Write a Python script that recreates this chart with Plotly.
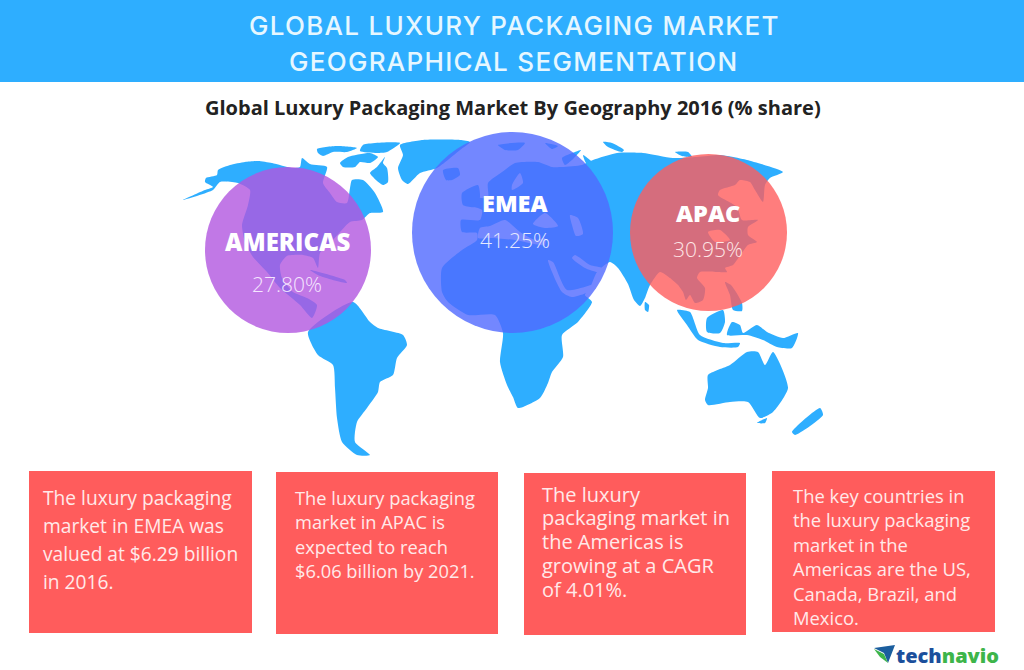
import plotly.graph_objects as go

# header text
title_lines = ["GLOBAL LUXURY PACKAGING MARKET", "GEOGRAPHICAL SEGMENTATION"]
subtitle = "Global Luxury Packaging Market By Geography 2016 (% share)"

# regional share bubbles
regions = ["AMERICAS", "EMEA", "APAC"]
shares = ["27.80%", "41.25%", "30.95%"]
bubble_x = [288, 512.5, 708.5]
bubble_y = [250, 232.5, 232.5]
bubble_d = [166, 201, 157]
bubble_colors = ["rgba(177,86,224,0.8)", "rgba(80,105,255,0.8)", "rgba(255,92,92,0.8)"]

# text boxes
box_left = [29, 276, 524, 772]
box_right = [252, 498, 746, 995]
box_top = [471, 472, 473, 471]
box_bottom = [633, 634, 635, 632]
box_text_x = [41, 293, 540, 791]
box_first_y = [497, 497, 494, 495]
box_step = [28, 24.5, 23.8, 24.5]
box_font = [19.2, 18.3, 20, 18.4]
box_lines = [
    ["The luxury packaging", "market in EMEA was", "valued at $6.29 billion", "in 2016."],
    ["The luxury packaging", "market in APAC is", "expected to reach", "$6.06 billion by 2021."],
    ["The luxury", "packaging market in", "the Americas is", "growing at a CAGR", "of 4.01%."],
    ["The key countries in", "the luxury packaging", "market in the", "Americas are the US,", "Canada, Brazil, and", "Mexico."],
]

# map outlines
north_america = [(183,200),(205,190),(213,187),(205,182),(206,178),(217,175),(218,170),(230,165),(245,162),(258,161),
                 (272,163),(292,168),(300,167),(302,158),(310,164),(327,167),(323,183),(330,193),(337,202),(347,203),
                 (350,188),(352,180),(363,180),(375,193),(383,212),(370,213),(362,220),(350,222),(333,240),(320,253),
                 (318,268),(313,258),(303,255),(287,256),(280,265),(282,278),(293,292),(307,298),(317,305),(312,318),
                 (300,305),(280,288),(267,272),(253,257),(245,242),(242,225),(248,205),(250,190),(238,183),(220,182),
                 (213,190)]
south_america = [(308,332),(353,302),(370,322),(378,328),(403,335),(407,345),(397,358),(393,375),(380,382),(378,392),
                 (367,408),(357,422),(355,442),(370,455),(357,455),(342,442),(337,418),(335,388),(333,365),(318,355)]
cuba = [(310,270),(345,280),(347,283),(320,276)]
arctic_1 = [(317,149),(337,146),(357,148),(347,152),(333,152),(323,156),(318,153)]
arctic_2 = [(340,163),(348,157),(370,153),(378,157),(370,163),(360,162),(355,167),(343,167)]
arctic_3 = [(363,145),(400,143),(387,152),(377,153),(360,151)]
baffin = [(383,163),(385,157),(377,167),(370,173),(383,185),(388,182),(387,168)]
greenland = [(400,145),(423,140),(460,140),(470,142),(460,150),(437,168),(420,173),(408,184),(402,180),(398,168),(403,155)]
iceland = [(443,170),(458,168),(460,175),(452,180),(446,180)]
svalbard = [(498,145),(525,143),(518,150),(505,150)]
franz_josef = [(545,143),(558,146),(552,149)]
novaya_1 = [(562,158),(575,152),(581,150),(572,160),(565,165)]
novaya_2 = [(583,155),(590,160),(598,170),(595,171),(586,163)]
arctic_isle = [(603,142),(612,143),(624,150),(622,152),(608,147)]
arctic_isle_2 = [(675,152),(688,152),(692,157),(682,156)]
uk = [(462,193),(478,185),(480,197),(475,207),(463,205)]
afro_eurasia = [(488,183),(502,172),(515,163),(538,162),(552,167),(562,167),(582,165),(593,160),(617,153),(643,153),
                (673,158),(697,157),(720,155),(747,160),(783,172),(770,178),(765,185),(763,202),(755,190),(750,182),
                (740,180),(735,185),(720,190),(718,195),(737,207),(742,220),(758,220),(748,227),(748,235),(757,242),
                (748,245),(733,265),(725,268),(727,272),(718,272),(700,272),(697,278),(705,288),(703,300),(695,303),
                (690,295),(686,300),(683,292),(678,285),(670,278),(660,272),(650,285),(645,298),(640,306),(634,300),
                (628,284),(618,268),(610,262),(597,272),(590,288),(585,295),(592,302),(578,322),(562,335),(563,357),
                (552,372),(548,383),(540,398),(518,408),(513,397),(507,385),(500,362),(503,333),(495,315),(468,315),
                (448,302),(442,292),(442,268),(462,250),(477,240),(477,233),(462,232),(461,220),(480,220),(482,210),
                (470,205),(475,198),(488,198)]
sri_lanka = [(645,302),(649,305),(648,312),(645,310)]
sumatra = [(677,310),(690,312),(700,335),(723,343),(740,343),(738,347),(720,347),(698,340),(687,325)]
borneo = [(707,318),(723,310),(725,322),(720,333),(707,332)]
papua = [(727,335),(732,322),(740,325),(743,333),(757,325),(767,332),(783,338),(798,333),(792,348),(777,347),(763,340),(747,335)]
philippines = [(725,282),(731,285),(742,303),(742,311),(733,310),(730,295)]
australia = [(708,375),(730,365),(747,352),(758,352),(765,365),(773,352),(788,388),(773,412),(760,418),(748,402),(730,402),(708,405),(705,400),(708,388)]
tasmania = [(757,423),(767,418),(765,423)]
new_zealand = [(792,432),(820,408),(823,415),(795,435)]
land_parts = [north_america, south_america, cuba, arctic_1, arctic_2, arctic_3, baffin, greenland, iceland, svalbard,
              franz_josef, novaya_1, novaya_2, arctic_isle, arctic_isle_2, uk, afro_eurasia, sri_lanka, sumatra, borneo,
              papua, philippines, australia, tasmania, new_zealand]

# inland seas cut out of the land
baltic = [(512,185),(520,173),(523,183),(512,190)]
mediterranean = [(480,228),(490,226),(505,220),(520,232),(535,240),(545,238),(545,245),(515,240),(490,238),(478,238)]
black_sea = [(533,224),(545,213),(558,226),(545,228)]
caspian = [(570,215),(578,218),(583,234),(576,236),(572,225)]
red_sea = [(548,260),(553,262),(567,290),(600,283),(600,287),(572,297),(562,292)]
persian_gulf = [(575,255),(590,265),(602,268),(598,272),(585,268),(572,258)]
bohai = [(708,232),(720,230),(730,240),(715,242)]
sea_parts = [baltic, mediterranean, black_sea, caspian, red_sea, persian_gulf, bohai]

# logo
logo_dark = [(874,648),(895,645),(888,663),(884,653)]
logo_green = [(874,649),(884,654),(888,663),(880,657)]

fig = go.Figure()


def add_poly(points, color, shape="spline"):
    xs = [p[0] for p in points] + [points[0][0]]
    ys = [p[1] for p in points] + [points[0][1]]
    fig.add_trace(go.Scatter(x=xs, y=ys, mode="lines", fill="toself", fillcolor=color,
                             line=dict(width=0, color=color, shape=shape, smoothing=0.6),
                             hoverinfo="skip", showlegend=False))


for part in land_parts:
    add_poly(part, "#2EAEFF")
for part in sea_parts:
    add_poly(part, "#FFFFFF")
add_poly(logo_dark, "#1B5E9E", "linear")
add_poly(logo_green, "#3DB54A", "linear")

fig.add_trace(go.Scatter(x=bubble_x, y=bubble_y, mode="markers", hoverinfo="skip", showlegend=False,
                         marker=dict(size=bubble_d, color=bubble_colors, opacity=1, line=dict(width=0))))

# banner and boxes
fig.add_shape(type="rect", x0=0, x1=1024, y0=0, y1=82, fillcolor="#2EAEFF", line_width=0, layer="below")
for i in range(4):
    fig.add_shape(type="rect", x0=box_left[i], x1=box_right[i], y0=box_top[i], y1=box_bottom[i],
                  fillcolor="#FF5C5C", line_width=0, layer="below")


def label(x, y, text, size, color="#FFFFFF", family="Open Sans", weight=400, anchor="center"):
    fig.add_annotation(x=x, y=y, text=text, showarrow=False, xanchor=anchor, yanchor="middle",
                       font=dict(size=size, color=color, family=family, weight=weight))


# the title face is wider than anything installed, so space the letters out a bit
title_style = "<span style='letter-spacing:1.3px'>%s</span>"
label(514, 25, title_style % title_lines[0], 26, "#E6F7FF", "Inter", weight=500)
label(514, 61, title_style % title_lines[1], 26, "#E6F7FF", "Inter", weight=500)
label(513, 107, subtitle, 20, "#222222", weight=700)

label(287, 241, regions[0], 24, weight=800)
label(287, 284, shares[0], 21, "#F5E6FF", weight=300)
label(515, 203, regions[1], 23.5, weight=800)
label(515, 240, shares[1], 21, "#E6EAFF", weight=300)
label(708, 213, regions[2], 23.5, weight=800)
label(708, 249, shares[2], 21, "#FFE6E6", weight=300)

for i, lines in enumerate(box_lines):
    for j, line in enumerate(lines):
        label(box_text_x[i], box_first_y[i] + j * box_step[i], line, box_font[i], "#FFE9E9", anchor="left")

label(894, 655, "<span style='color:#1B4F9C'>tech</span><span style='color:#3DB54A'>navio</span>", 20, weight=800, anchor="left")

fig.update_xaxes(range=[0, 1024], visible=False, fixedrange=True)
fig.update_yaxes(range=[670, 0], visible=False, fixedrange=True)
fig.update_layout(width=1024, height=670, margin=dict(l=0, r=0, t=0, b=0), paper_bgcolor="white",
                  plot_bgcolor="white", showlegend=False)

fig.write_html("out.html", config={"displayModeBar": False},
               post_script="document.body.style.margin='0';document.body.style.overflow='hidden';")
